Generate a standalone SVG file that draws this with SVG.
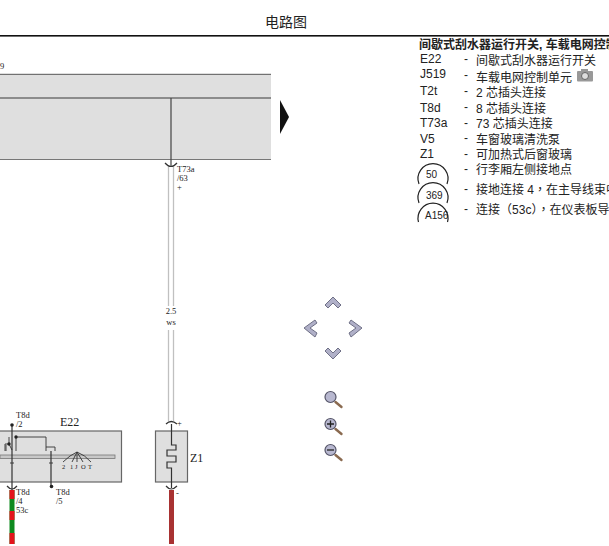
<svg xmlns="http://www.w3.org/2000/svg" width="609" height="546" viewBox="0 0 609 546">
<style>
text{font-family:"Liberation Sans","Noto Sans CJK SC",sans-serif;fill:#222}
.s{font-family:"Liberation Serif","Noto Sans CJK SC",serif;font-size:8.500px;fill:#222}
.i{font-family:"Liberation Serif",serif;font-size:6.500px;fill:#222}
.b{font-family:"Liberation Serif",serif;font-size:12px;fill:#222}
.l{font-size:12px}
.k{font-size:12px}
.p{font-family:"Noto Sans CJK TC",sans-serif}
.r{font-size:10px}
.w{fill:none;stroke:#333;stroke-width:1.200}
.t{fill:none;stroke:#333;stroke-width:.9}
.a{fill:none;stroke:#222;stroke-width:1.200}
.n{fill:#b0b0c8;stroke:#6f7086;stroke-width:1}
.h{fill:none;stroke:#8a6a50;stroke-width:2.400;stroke-linecap:round}
.m{fill:#b8b8d0;stroke:#555568;stroke-width:1.200}
</style>
<defs>
<clipPath id="legendClip"><rect x="410" y="38" width="199" height="186"/></clipPath>
<g id="mag"><line class="h" x1="5" y1="5" x2="11" y2="10"/><circle class="m" cx="0" cy="0" r="5.500"/></g>
</defs>
<text id="title" x="286" y="27" text-anchor="middle" style="font-size:14px">电路图</text>
<rect x="0" y="35" width="609" height="1.600" fill="#111"/>
<g id="module">
<rect x="0" y="74" width="271" height="86" fill="#dfdfdf"/>
<line x1="0" y1="74.300" x2="271" y2="74.300" stroke="#333" stroke-width=".8"/>
<line x1="0" y1="98" x2="271" y2="98" stroke="#707070" stroke-width="1.400"/>
<line x1="0" y1="159.500" x2="271" y2="159.500" stroke="#777" stroke-width="1.200"/>
<text class="s" x="0" y="69">9</text>
</g>
<polygon id="more" points="280,100 289,117 280,134" fill="#111"/>
<g id="connectors">
<path d="M168.500 165V306M173.500 165V306M168.500 330V421M173.500 330V421" fill="none" stroke="#c0c0c0" stroke-width="1.300"/>
<line x1="171" y1="98" x2="171" y2="166" stroke="#444" stroke-width="1.200"/>
<path d="M165 163q6 7 12 0" class="w"/>
<rect x="9.500" y="490" width="5" height="54" fill="#0f8a1f"/>
<path d="M9.500 490h5v9h-5zM9.500 511h5v9h-5zM9.500 533h5v11h-5z" fill="#e4141c"/>
<rect x="169" y="490" width="5" height="54" fill="#a83232"/>
</g>
<g id="E22">
<rect x="-3" y="431" width="124.500" height="51" fill="#dfdfdf" stroke="#666" stroke-width="1.200"/>
<rect x="0" y="455" width="115" height="3.500" fill="#c8c8c8" stroke="#777" stroke-width=".8"/>
<line class="w" x1="12" y1="425" x2="12" y2="490"/>
<circle cx="12" cy="425" r="1.800" fill="#222"/>
<path class="t" d="M16 437H46V451M46 447H55V451M16 437V451M9 444V437M9 444H5V451M9 444L12 450M6 445V451"/>
<circle cx="16" cy="437" r="1.700" fill="#222"/>
<circle cx="9" cy="444" r="1.700" fill="#222"/>
<line class="w" x1="51" y1="451" x2="51" y2="486"/>
<circle cx="51.500" cy="486.500" r="1.800" fill="#222"/>
<path class="t" d="M10 463H14M49 463H53"/>
<path class="t" d="M63 462Q70 455 77 452Q85 455 91 462M77 452L72 462M77 452V462M77 452L83 462"/>
<text class="i" x="62" y="469">2</text>
<text class="i" x="70" y="469">1</text>
<text class="i" x="75" y="469">J</text>
<text class="i" x="81" y="469">O</text>
<text class="i" x="88" y="469">T</text>
<path class="w" d="M7 486q5 6 10 0"/>
<text class="s" x="16" y="418">T8d</text>
<text class="s" x="16" y="427">/2</text>
<text class="b" x="60" y="426">E22</text>
<text class="s" x="16" y="495">T8d</text>
<text class="s" x="16" y="504">/4</text>
<text class="s" x="16" y="513">53c</text>
<text class="s" x="56" y="495">T8d</text>
<text class="s" x="56" y="504">/5</text>
</g>
<g id="Z1">
<rect x="155.500" y="431" width="32" height="51" fill="#dfdfdf" stroke="#666" stroke-width="1.200"/>
<path class="w" d="M171.500 424V445H176V450H167V456H176V462H167V468H171.500V488"/>
<path class="w" d="M166 424q5 -5 11 0M166 486q5 6 11 0"/>
<text class="s" x="177" y="426">+</text>
<text class="s" x="176" y="496">-</text>
<text class="b" x="190" y="462">Z1</text>
</g>
<g id="wire-labels">
<text class="s" x="177" y="172">T73a</text>
<text class="s" x="177" y="181">/63</text>
<text class="s" x="177" y="190">+</text>
<text class="s" x="171" y="314" text-anchor="middle">2.5</text>
<text class="s" x="171" y="325" text-anchor="middle">ws</text>
</g>
<g id="legend" clip-path="url(#legendClip)">
<text x="419" y="49" style="font-size:12px;font-weight:700">间歇式刮水器运行开关, 车载电网控制单元</text>
<text class="l" x="420" y="63">E22</text><text class="k" x="464" y="63">-</text><text class="k" x="476" y="65">间歇式刮水器运行开关</text>
<text class="l" x="420" y="78">J519</text><text class="k" x="464" y="79">-</text><text class="k" x="476" y="82">车载电网控制单元</text>
<text class="l" x="420" y="95">T2t</text><text class="k" x="464" y="95">-</text><text class="k" x="476" y="97">2 芯插头连接</text>
<text class="l" x="420" y="112">T8d</text><text class="k" x="464" y="111">-</text><text class="k" x="476" y="113">8 芯插头连接</text>
<text class="l" x="420" y="127">T73a</text><text class="k" x="464" y="127">-</text><text class="k" x="476" y="128">73 芯插头连接</text>
<text class="l" x="420" y="143">V5</text><text class="k" x="464" y="142">-</text><text class="k" x="476" y="144">车窗玻璃清洗泵</text>
<text class="l" x="420" y="158">Z1</text><text class="k" x="464" y="158">-</text><text class="k" x="476" y="159">可加热式后窗玻璃</text>
<text class="k" x="464" y="173">-</text><text class="k" x="476" y="174">行李厢左侧接地点</text>
<text class="k" x="464" y="193">-</text><text class="k" x="476" y="194">接地连接 4<tspan class="p">，</tspan>在主导线束中</text>
<text class="k" x="464" y="213">-</text><text class="k" x="476" y="214">连接<tspan class="p">（</tspan>53c<tspan class="p">），</tspan>在仪表板导线束中</text>
<path class="a" d="M419 184A15 15 0 1 1 447 184"/>
<text class="r" x="426" y="178">50</text>
<path class="a" d="M419 203A15 15 0 1 1 447 203"/>
<text class="r" x="426" y="199">369</text>
<path class="a" d="M418.500 222A15 15 0 1 1 447.500 222"/>
<text class="r" x="425" y="219">A156</text>
</g>
<g id="camera">
<rect x="577" y="71" width="16" height="10.500" rx="1" fill="#999"/>
<rect x="581" y="69" width="7" height="3" fill="#999"/>
<circle cx="585" cy="76" r="3.500" fill="#ddd" stroke="#666"/>
</g>
<g id="nav">
<path class="n" d="M325 305L333 297L341 305L338 308L333 303L328 308Z"/>
<path class="n" d="M325 351L333 359L341 351L338 348L333 353L328 348Z"/>
<path class="n" d="M315 320L304 328L315 337L317 333L310 328L317 323Z"/>
<path class="n" d="M351 320L362 328L351 337L349 333L356 328L349 323Z"/>
</g>
<g id="zoom-tools">
<use href="#mag" x="330.500" y="397"/>
<use href="#mag" x="330.500" y="424"/>
<path d="M327 424H334M330.500 420.500V427.500" stroke="#222" stroke-width="1.300"/>
<use href="#mag" x="330.500" y="450"/>
<path d="M327 450H334" stroke="#222" stroke-width="1.300"/>
</g>
</svg>
